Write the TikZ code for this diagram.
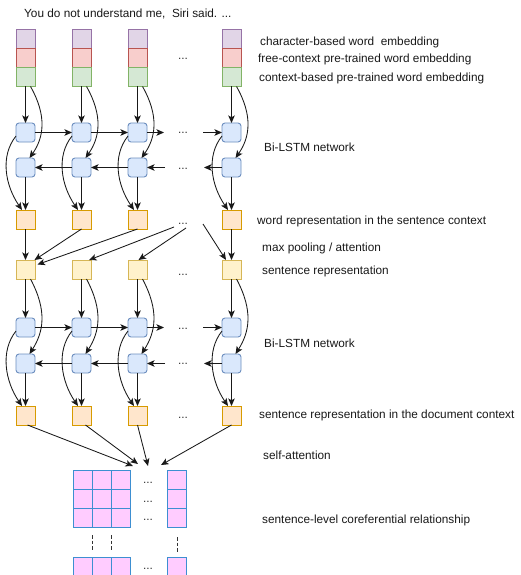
\documentclass[tikz,border=0pt]{standalone}
\usepackage{fontspec}
\setmainfont{Liberation Sans}
\usetikzlibrary{arrows.meta}
\definecolor{purF}{HTML}{E1D5E7}\definecolor{purD}{HTML}{9673A6}
\definecolor{redF}{HTML}{F8CECC}\definecolor{redD}{HTML}{B85450}
\definecolor{grnF}{HTML}{D5E8D4}\definecolor{grnD}{HTML}{82B366}
\definecolor{bluF}{HTML}{DAE8FC}\definecolor{bluD}{HTML}{6C8EBF}
\definecolor{orgF}{HTML}{FFE6CC}\definecolor{orgD}{HTML}{D79B00}
\definecolor{ylwF}{HTML}{FFF2CC}\definecolor{ylwD}{HTML}{D6B656}
\definecolor{pnkF}{HTML}{FFCCFF}\definecolor{pnkD}{HTML}{3D8FD1}
\tikzset{
  box/.style={minimum width=19pt,minimum height=19pt,inner sep=0pt,outer sep=0pt,line width=0.9pt},
  embA/.style={box,fill=purF,draw=purD},
  embB/.style={box,fill=redF,draw=redD},
  embC/.style={box,fill=grnF,draw=grnD},
  lstm/.style={box,fill=bluF,draw=bluD,rounded corners=3pt},
  wrep/.style={box,fill=orgF,draw=orgD},
  srep/.style={box,fill=ylwF,draw=ylwD},
  cell/.style={box,fill=pnkF,draw=pnkD},
  lbl/.style={anchor=west,inner sep=0pt,font=\fontsize{11.8}{14}\selectfont,text=black!90},
  dotsnode/.style={anchor=base,inner sep=0pt,font=\fontsize{11.8}{14}\selectfont,text=black!80},
  arr/.style={-{Stealth[length=7.5pt,width=6.5pt,inset=1.8pt]},line width=0.85pt,draw=black!90},
  vdash/.style={line width=1pt,dash pattern=on 3.5pt off 2pt,draw=black!80}
}
\begin{document}
\begin{tikzpicture}[x=1pt,y=-1pt]
\useasboundingbox (0,0) rectangle (521,575);
\clip (0,0) rectangle (521,575);
\fill[white] (0,0) rectangle (521,575);

\node[lbl] (title) at (24,14) {You do not understand me,~ Siri said. ...};

\foreach \i/\x in {1/25.5,2/81.5,3/137.5,4/231.5}{
  \node[embA] (p\i) at (\x,39) {};
  \node[embB] (r\i) at (\x,58) {};
  \node[embC] (g\i) at (\x,77) {};
  \node[lstm] (t\i) at (\x,132.5) {};
  \node[lstm] (b\i) at (\x,167.5) {};
  \node[wrep] (o\i) at (\x,219.5) {};
  \node[srep] (s\i) at (\x,269.5) {};
  \node[lstm] (u\i) at (\x,327.5) {};
  \node[lstm] (v\i) at (\x,363.5) {};
  \node[wrep] (q\i) at (\x,415.5) {};
}

% dots
\node[dotsnode] (d1) at (183,60) {...};
\node[dotsnode] (d2) at (183,133) {...};
\node[dotsnode] (d3) at (183,169) {...};
\node[dotsnode] (d4) at (183,224) {...};
\node[dotsnode] (d5) at (183,275) {...};
\node[dotsnode] (d6) at (183,329) {...};
\node[dotsnode] (d7) at (183,364) {...};
\node[dotsnode] (d8) at (183,418) {...};

% layer 1 and 2 connections per column
\foreach \i in {1,2,3,4}{
  \draw[arr] (g\i.south) -- (t\i.north);
  \draw[arr] ([xshift=5pt]g\i.south) .. controls +(17,30) and +(14,-20) .. ([xshift=4pt]b\i.north);
  \draw[arr] ([yshift=-3.5pt]t\i.west) .. controls +(-16,20) and +(-17,-25) .. ([xshift=-3.5pt]o\i.north);
  \draw[arr] (b\i.south) -- (o\i.north);
  \draw[arr] (s\i.south) -- (u\i.north);
  \draw[arr] ([xshift=5pt]s\i.south) .. controls +(17,32) and +(14,-22) .. ([xshift=4pt]v\i.north);
  \draw[arr] ([yshift=-3.5pt]u\i.west) .. controls +(-16,20) and +(-17,-25) .. ([xshift=-3.5pt]q\i.north);
  \draw[arr] (v\i.south) -- (q\i.north);
}

% horizontal LSTM arrows, layer 1
\coordinate (h1a) at (164,132.5);
\coordinate (h1b) at (203,132.5);
\coordinate (h1c) at (204,167.5);
\coordinate (h1d) at (165,167.5);
\draw[arr] (t1.east) -- (t2.west);
\draw[arr] (t2.east) -- (t3.west);
\draw[arr] (t3.east) -- (h1a);
\draw[arr] (h1b) -- (t4.west);
\draw[arr] (b4.west) -- (h1c);
\draw[arr] (h1d) -- (b3.east);
\draw[arr] (b3.west) -- (b2.east);
\draw[arr] (b2.west) -- (b1.east);

% horizontal LSTM arrows, layer 2
\coordinate (h2a) at (164,327.5);
\coordinate (h2b) at (203,327.5);
\coordinate (h2c) at (204,363.5);
\coordinate (h2d) at (165,363.5);
\draw[arr] (u1.east) -- (u2.west);
\draw[arr] (u2.east) -- (u3.west);
\draw[arr] (u3.east) -- (h2a);
\draw[arr] (h2b) -- (u4.west);
\draw[arr] (v4.west) -- (h2c);
\draw[arr] (h2d) -- (v3.east);
\draw[arr] (v3.west) -- (v2.east);
\draw[arr] (v2.west) -- (v1.east);

% max pooling / attention
\coordinate (m1) at (174,227);
\coordinate (m2) at (186,228);
\coordinate (m3) at (203,224);
\draw[arr] (o1.south) -- (s1.north);
\draw[arr] (o4.south) -- (s4.north);
\draw[arr] (o2.south) -- ([xshift=-0.5pt]s1.north east);
\draw[arr] (o3.south) -- ([xshift=2.5pt,yshift=5pt]s1.east);
\draw[arr] (m1) -- ([xshift=-2pt]s2.north east);
\draw[arr] (m2) -- ([xshift=1pt]s3.north);
\draw[arr] (m3) -- ([xshift=-5.5pt]s4.north);

% matrix
\foreach \r/\y in {1/479.5,2/498.5,3/517.5,4/566.5}{
  \node[cell] (c\r a) at (82.5,\y) {};
  \node[cell] (c\r b) at (101.5,\y) {};
  \node[cell] (c\r c) at (120.5,\y) {};
  \node[cell] (c\r z) at (177,\y) {};
}
\node[dotsnode] (e1) at (148,483) {...};
\node[dotsnode] (e2) at (148,502) {...};
\node[dotsnode] (e3) at (148,520) {...};
\node[dotsnode] (e4) at (148,569) {...};
\draw[vdash] (92,535) -- (92,550);
\draw[vdash] (111,535) -- (111,550);
\draw[vdash] (177,537) -- (177,552);

% self-attention
\coordinate (a1) at (133,466);
\coordinate (a2) at (138,464);
\coordinate (a3) at (148,466);
\coordinate (a4) at (161,465);
\draw[arr] ([xshift=2pt]q1.south) -- (a1);
\draw[arr] ([xshift=4pt]q2.south) -- (a2);
\draw[arr] (q3.south) -- (a3);
\draw[arr] (q4.south) -- (a4);

% labels
\node[lbl] (l1) at (260,42) {character-based word~ embedding};
\node[lbl] (l2) at (258,59.5) {free-context pre-trained word embedding};
\node[lbl] (l3) at (259,78) {context-based pre-trained word embedding};
\node[lbl] (l4) at (264,147.5) {Bi-LSTM network};
\node[lbl] (l5) at (257,221) {word representation in the sentence context};
\node[lbl] (l6) at (262,248) {max pooling / attention};
\node[lbl] (l7) at (262,271.5) {sentence representation};
\node[lbl] (l8) at (264,343.5) {Bi-LSTM network};
\node[lbl] (l9) at (259,415) {sentence representation in the document context};
\node[lbl] (l10) at (263,455) {self-attention};
\node[lbl] (l11) at (262,520) {sentence-level coreferential relationship};
\end{tikzpicture}
\end{document}
